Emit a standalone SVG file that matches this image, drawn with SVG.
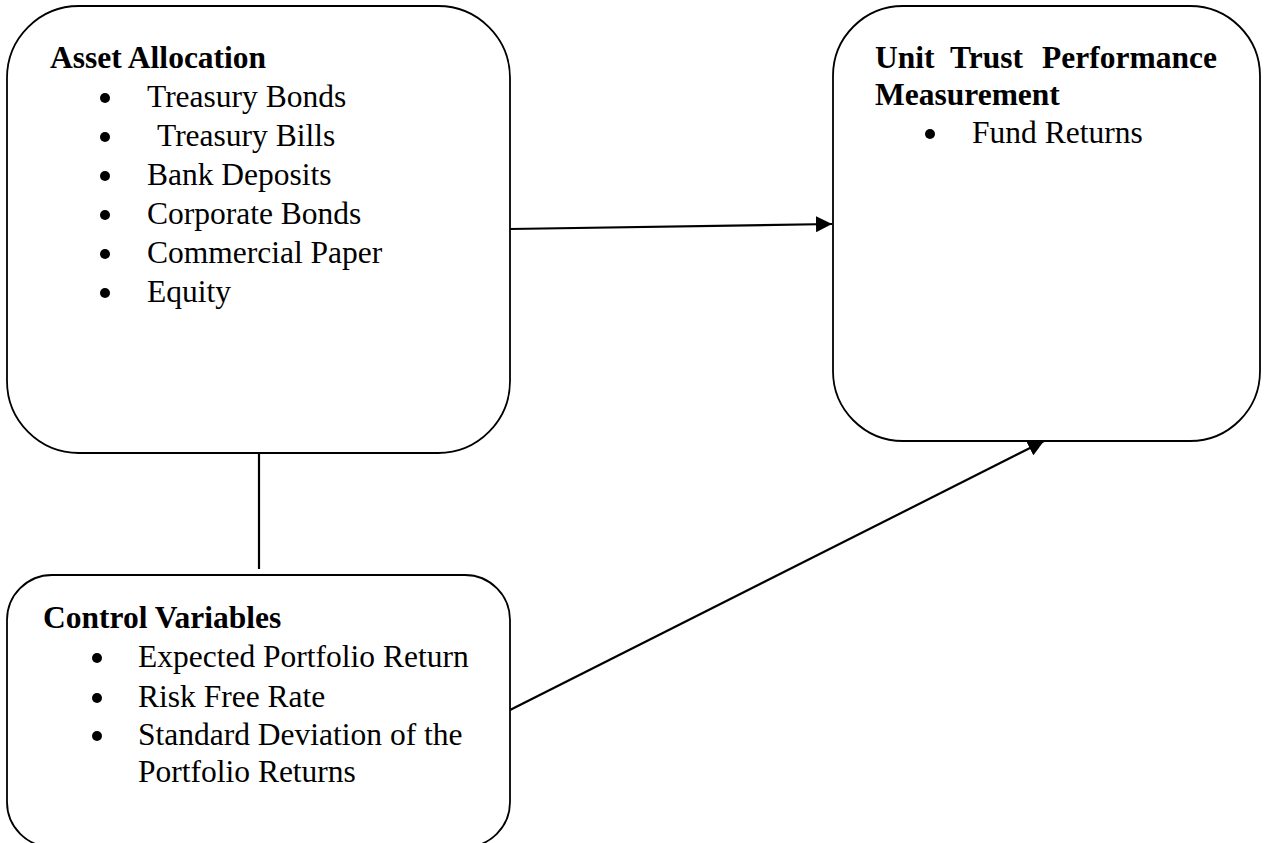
<svg xmlns="http://www.w3.org/2000/svg" width="1269" height="843" viewBox="0 0 1269 843">
<style>
.box{fill:#fff;stroke:#000;stroke-width:1.8}
.t{font-family:"Liberation Serif","Times New Roman",serif;font-size:31.5px;fill:#000}
.b{font-weight:bold}
.dot{fill:#000}
.con{stroke:#000;stroke-width:2.2;fill:none}
</style>
<defs>
<marker id="arr" markerWidth="16" markerHeight="16" refX="16" refY="8" orient="auto" markerUnits="userSpaceOnUse">
<path d="M0,0 L16,8 L0,16 Z" fill="#000"/>
</marker>
</defs>
<rect width="1269" height="843" fill="#fff"/>
<g id="connectors">
<line class="con" x1="259" y1="454" x2="259" y2="569"/>
<line class="con" x1="510" y1="229" x2="832" y2="224" marker-end="url(#arr)"/>
<line class="con" x1="510" y1="710" x2="1044" y2="441" marker-end="url(#arr)"/>
</g>
<g id="asset-allocation">
<rect class="box" x="7" y="6" width="503" height="447" rx="72" ry="72"/>
<text class="t b" x="50" y="68">Asset Allocation</text>
<circle class="dot" cx="105" cy="98" r="5"/>
<circle class="dot" cx="105" cy="137" r="5"/>
<circle class="dot" cx="105" cy="176" r="5"/>
<circle class="dot" cx="105" cy="215" r="5"/>
<circle class="dot" cx="105" cy="254" r="5"/>
<circle class="dot" cx="105" cy="293" r="5"/>
<text class="t" x="147" y="107">Treasury Bonds</text>
<text class="t" x="157" y="146">Treasury Bills</text>
<text class="t" x="147" y="185">Bank Deposits</text>
<text class="t" x="147" y="224">Corporate Bonds</text>
<text class="t" x="147" y="263">Commercial Paper</text>
<text class="t" x="147" y="302">Equity</text>
</g>
<g id="unit-trust">
<rect class="box" x="833" y="6" width="427" height="435" rx="70" ry="70"/>
<text class="t b" x="875" y="68">Unit</text>
<text class="t b" x="950" y="68">Trust</text>
<text class="t b" x="1042" y="68">Performance</text>
<text class="t b" x="875" y="105">Measurement</text>
<circle class="dot" cx="930" cy="134" r="5"/>
<text class="t" x="972" y="143">Fund Returns</text>
</g>
<g id="control-variables">
<rect class="box" x="7" y="575" width="503" height="272" rx="45" ry="45"/>
<text class="t b" x="43" y="628">Control Variables</text>
<circle class="dot" cx="97" cy="658" r="5"/>
<circle class="dot" cx="97" cy="698" r="5"/>
<circle class="dot" cx="97" cy="736" r="5"/>
<text class="t" x="138" y="667">Expected Portfolio Return</text>
<text class="t" x="138" y="707">Risk Free Rate</text>
<text class="t" x="138" y="745">Standard Deviation of the</text>
<text class="t" x="138" y="782">Portfolio Returns</text>
</g>
</svg>
